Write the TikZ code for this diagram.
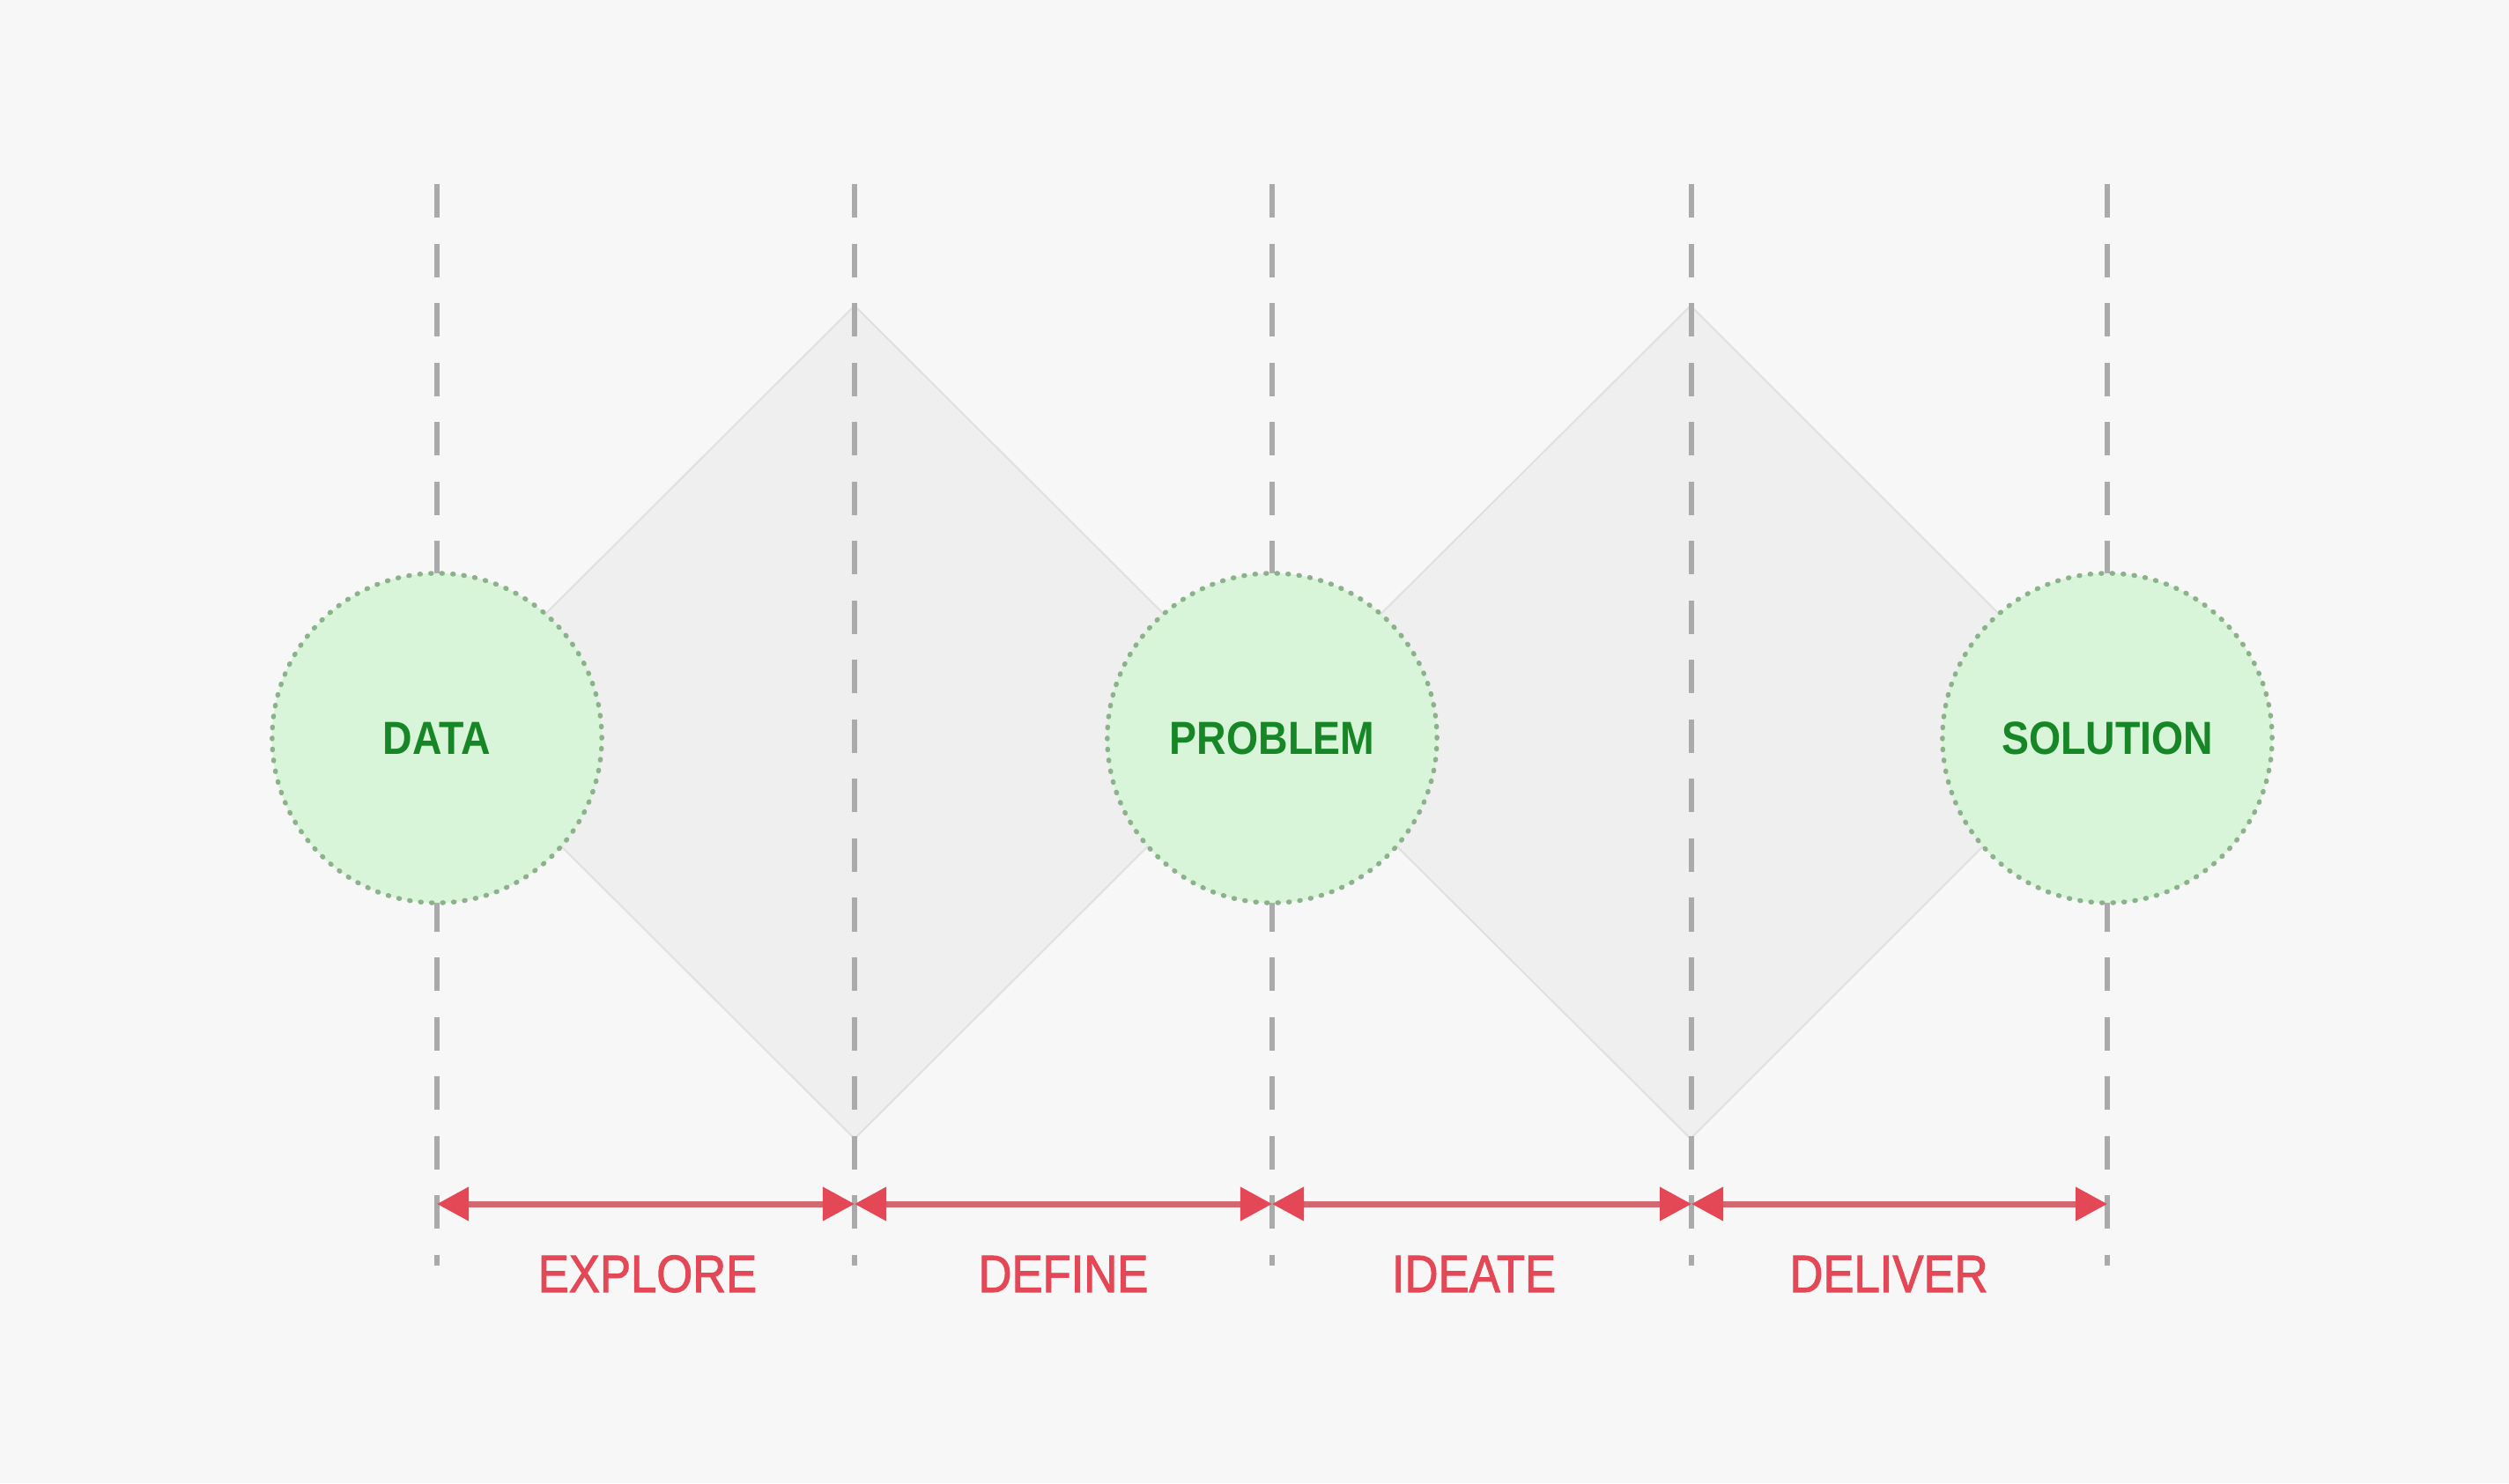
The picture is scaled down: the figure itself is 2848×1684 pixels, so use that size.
\documentclass[tikz,border=0pt]{standalone}
\usepackage{fontspec}
\setmainfont{Liberation Sans}
\newfontfamily\stagefont[FakeStretch=0.88]{Liberation Sans}
\newfontfamily\phasefont[FakeStretch=0.88, FakeBold=1.6]{Liberation Sans}
\usetikzlibrary{positioning, arrows.meta}
\definecolor{PageGray}{RGB}{247,247,247}
\definecolor{DiamondGray}{RGB}{239,239,239}
\definecolor{EdgeGray}{RGB}{224,224,224}
\definecolor{GuideGray}{RGB}{170,170,170}
\definecolor{StageGreen}{RGB}{217,245,217}
\definecolor{DotGreen}{RGB}{140,178,140}
\definecolor{TextGreen}{RGB}{22,134,38}
\definecolor{PhaseRed}{RGB}{228,72,86}
\definecolor{SpanRed}{RGB}{210,104,112}
\tikzset{
    guide/.style={
        GuideGray, line width=0.06cm, dash pattern=on 0.38cm off 0.295cm
    },
    diamondshape/.style={
        fill=DiamondGray, draw=EdgeGray, line width=0.02cm
    },
    stagenode/.style={
        circle, fill=StageGreen, draw=DotGreen, line width=0.055cm,
        dash pattern=on 0.01cm off 0.115cm, line cap=round,
        minimum size=3.74cm, inner sep=0pt,
        font=\stagefont\fontsize{15}{18}\selectfont\bfseries, text=TextGreen
    },
    span/.style={
        {Triangle[length=0.36cm, width=0.37cm, color=PhaseRed]}-{Triangle[length=0.36cm, width=0.37cm, color=PhaseRed]},
        SpanRed, line width=0.07cm
    },
    phaselabel/.style={
        font=\phasefont\fontsize{17}{20}\selectfont, text=PhaseRed, anchor=base
    }
}
\begin{document}
\begin{tikzpicture}[x=0.01cm, y=-0.01cm]
    \fill[PageGray] (0,0) rectangle (2848,1684);
    % the two diamonds
    \draw[diamondshape] (496,820) -- (970,347) -- (1444,820) -- (970,1293) -- cycle;
    \draw[diamondshape] (1444,820) -- (1919,347) -- (2392,820) -- (1919,1293) -- cycle;
    % guide lines
    \coordinate (top1) at (496,209);
    \coordinate (top2) at (970,209);
    \coordinate (top3) at (1444,209);
    \coordinate (top4) at (1920,209);
    \coordinate (top5) at (2392,209);
    \coordinate (bot1) at (496,1437);
    \coordinate (bot2) at (970,1437);
    \coordinate (bot3) at (1444,1437);
    \coordinate (bot4) at (1920,1437);
    \coordinate (bot5) at (2392,1437);
    \draw[guide] (top1) -- (bot1);
    \draw[guide] (top2) -- (bot2);
    \draw[guide] (top3) -- (bot3);
    \draw[guide] (top4) -- (bot4);
    \draw[guide] (top5) -- (bot5);
    % stages
    \node[stagenode] (data) at (496,838) {DATA};
    \node[stagenode] (problem) at (1444,838) {PROBLEM};
    \node[stagenode] (solution) at (2392,838) {SOLUTION};
    % phase spans
    \coordinate (mark1) at (496,1367);
    \coordinate (mark2) at (970,1367);
    \coordinate (mark3) at (1444,1367);
    \coordinate (mark4) at (1920,1367);
    \coordinate (mark5) at (2392,1367);
    \draw[span] (mark1) -- (mark2);
    \draw[span] (mark2) -- (mark3);
    \draw[span] (mark3) -- (mark4);
    \draw[span] (mark4) -- (mark5);
    \node[phaselabel] (explore) at (735,1467) {EXPLORE};
    \node[phaselabel] (define) at (1207,1467) {DEFINE};
    \node[phaselabel] (ideate) at (1673,1467) {IDEATE};
    \node[phaselabel] (deliver) at (2144,1467) {DELIVER};
\end{tikzpicture}
\end{document}
